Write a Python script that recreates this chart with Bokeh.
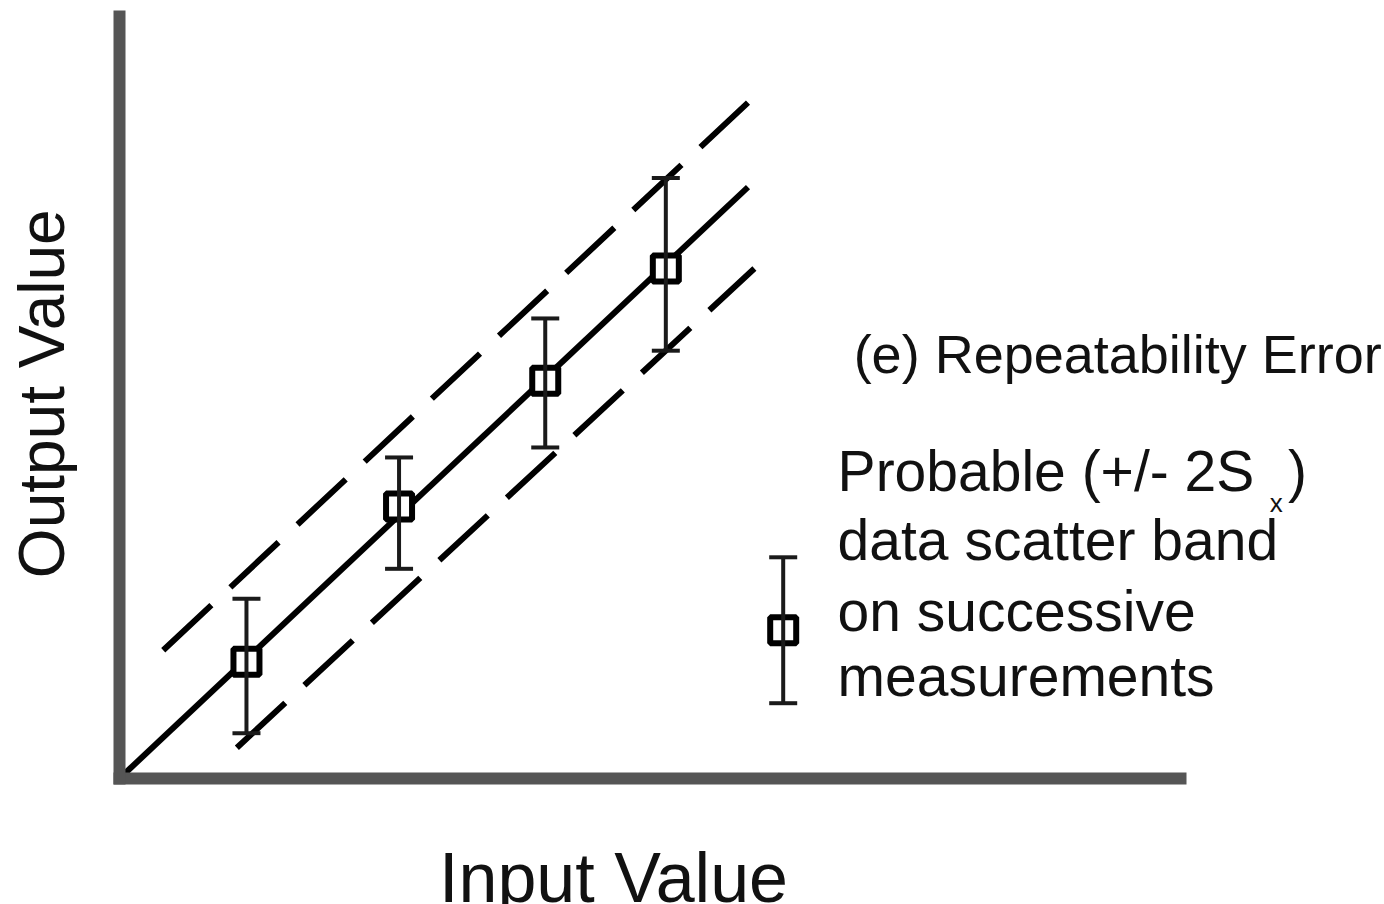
import math
from bokeh.plotting import figure
from bokeh.models import (Range1d, Label, Whisker, TeeHead, ColumnDataSource,
                          FixedTicker, LinearAxis)
from bokeh.embed import file_html
from bokeh.resources import INLINE

# ---- data ----
input_vals = [1.19, 2.62, 3.99, 5.12]
output_vals = [1.52, 3.54, 5.18, 6.64]
scatter_hi = [2.34, 4.18, 5.99, 7.82]
scatter_lo = [0.59, 2.73, 4.31, 5.57]

fit_x = [0.0, 5.89]
fit_y = [0.0, 7.70]
band_hi_x = [0.41, 5.89]
band_hi_y = [1.67, 8.80]
band_lo_x = [1.10, 5.95]
band_lo_y = [0.40, 6.64]

legend_x = [6.22]
legend_y = [1.93]
legend_hi = [2.88]
legend_lo = [0.98]

x_axis_extent = 9.944
y_axis_extent = 9.922

title_text = "(e) Repeatability Error"
legend_lines = ["Probable (+/- 2S", "data scatter band", "on successive", "measurements"]
x_label = "Input Value"
y_label = "Output Value"

FONT = "Liberation Sans"
INK = "#111111"

p = figure(width=1384, height=904,
           x_range=Range1d(-1.115, 11.855), y_range=Range1d(-1.641, 10.130),
           x_axis_type=None, y_axis_type=None,
           output_backend="svg", toolbar_location=None, min_border=0)
p.grid.visible = False
p.outline_line_color = None
p.background_fill_color = "white"
p.border_fill_color = "white"

xa = LinearAxis(fixed_location=0, bounds=(0, x_axis_extent))
ya = LinearAxis(fixed_location=0, bounds=(0, y_axis_extent))
for ax in (xa, ya):
    ax.ticker = FixedTicker(ticks=[])
    ax.major_tick_line_color = None
    ax.minor_tick_line_color = None
    ax.major_label_text_font_size = "0px"
    ax.axis_line_width = 12
    ax.axis_line_color = "#555555"
    ax.axis_line_cap = "square"
p.add_layout(xa, "below")
p.add_layout(ya, "left")

# fitted line and scatter band
p.line(fit_x, fit_y, line_width=6, line_color="black")
p.line(band_hi_x, band_hi_y, line_width=6, line_color="black", line_dash="66 26")
p.line(band_lo_x, band_lo_y, line_width=6, line_color="black", line_dash="66 26")

# error bars
src = ColumnDataSource(dict(x=input_vals + legend_x,
                            y=output_vals + legend_y,
                            hi=scatter_hi + legend_hi,
                            lo=scatter_lo + legend_lo))
w = Whisker(source=src, base="x", upper="hi", lower="lo",
            line_width=4, line_color="#1a1a1a", level="glyph",
            upper_head=TeeHead(size=28, line_width=4, line_color="#1a1a1a"),
            lower_head=TeeHead(size=28, line_width=4, line_color="#1a1a1a"))
p.add_layout(w)

p.scatter("x", "y", source=src, marker="square", size=26,
          fill_color="white", line_color="black", line_width=6)

# texts
p.add_layout(Label(x=6.88, y=5.53, text=title_text, text_font=FONT,
                   text_font_size="54px", text_color=INK,
                   text_align="left", text_baseline="alphabetic"))
for txt, yy in zip(legend_lines, [4.00, 3.11, 2.18, 1.33]):
    p.add_layout(Label(x=6.73, y=yy, text=txt, text_font=FONT,
                       text_font_size="57px", text_color=INK,
                       text_align="left", text_baseline="alphabetic"))
p.add_layout(Label(x=10.78, y=3.59, text="x", text_font=FONT,
                   text_font_size="26px", text_color=INK,
                   text_align="left", text_baseline="alphabetic"))
p.add_layout(Label(x=10.95, y=4.00, text=")", text_font=FONT,
                   text_font_size="57px", text_color=INK,
                   text_align="left", text_baseline="alphabetic"))
p.add_layout(Label(x=-0.73, y=5.01, text=y_label, angle=math.pi / 2,
                   text_font=FONT, text_font_size="64px", text_color=INK,
                   text_align="center", text_baseline="alphabetic"))
p.add_layout(Label(x=4.63, y=-1.30, text=x_label, text_font=FONT,
                   text_font_size="70px", text_color=INK,
                   text_align="center", text_baseline="alphabetic"))

open("out.html", "w").write(file_html(p, INLINE))
